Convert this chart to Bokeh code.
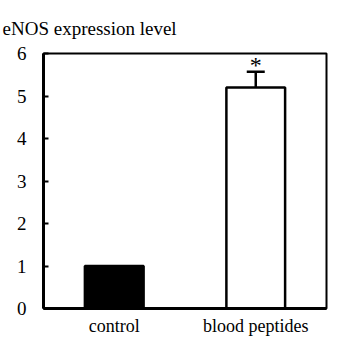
from bokeh.plotting import figure
from bokeh.models import ColumnDataSource, Whisker, TeeHead, FixedTicker, Range1d
from bokeh.core.properties import value
from bokeh.embed import file_html
from bokeh.resources import INLINE

categories = ["control", "blood peptides"]
levels = [1.0, 5.2]
errors = [0.0, 0.37]
fills = ["black", "white"]
y_ticks = [0, 1, 2, 3, 4, 5, 6]
sig_marks = ["", "*"]

FONT = "Liberation Serif"

src = ColumnDataSource(dict(
    cat=categories,
    top=levels,
    upper=[l + e for l, e in zip(levels, errors)],
    fill=fills,
    mark=sig_marks,
))
err_src = ColumnDataSource(dict(
    cat=categories[1:],
    lower=levels[1:],
    upper=[levels[1] + errors[1]],
))

p = figure(x_range=categories, y_range=Range1d(0, 6), width=328, height=338,
           output_backend="svg", toolbar_location=None,
           min_border_left=43, min_border_right=2, min_border_top=48, min_border_bottom=22,
           title="eNOS expression level")
p.x_range.range_padding = 0

p.title.text_font = FONT
p.title.text_font_style = "normal"
p.title.text_font_size = "19px"
p.title.text_color = "black"
p.title.align = "left"
p.title.offset = -41
p.title.standoff = 30

p.vbar(x="cat", top="top", width=0.415, source=src, fill_color="fill",
       line_color="black", line_width=2.5)

w = Whisker(base="cat", upper="upper", lower="lower", source=err_src,
            line_color="black", line_width=2.5,
            upper_head=TeeHead(size=18, line_color="black", line_width=2.5),
            lower_head=None)
p.add_layout(w)

p.text(x="cat", y="upper", text="mark", source=src, text_align="center",
       text_baseline="bottom", text_font=value(FONT), text_font_size="24px",
       y_offset=6, text_color="black")

p.grid.visible = False
p.outline_line_color = "black"
p.outline_line_width = 2
p.background_fill_color = "white"
p.border_fill_color = "white"

p.yaxis.ticker = FixedTicker(ticks=y_ticks)
p.yaxis.major_tick_in = 5
p.yaxis.major_tick_out = 0
p.yaxis.minor_tick_line_color = None
p.yaxis.axis_line_width = 3
p.yaxis.axis_line_color = "black"
p.yaxis.major_tick_line_width = 2
p.yaxis.major_tick_line_color = "black"
p.yaxis.major_label_text_font = FONT
p.yaxis.major_label_text_font_size = "19px"
p.yaxis.major_label_text_color = "black"
p.yaxis.major_label_standoff = 17

p.xaxis.major_tick_line_color = None
p.xaxis.axis_line_width = 3
p.xaxis.axis_line_color = "black"
p.xaxis.major_label_text_font = FONT
p.xaxis.major_label_text_font_size = "18px"
p.xaxis.major_label_text_color = "black"
p.xaxis.major_label_standoff = 1

open("out.html", "w").write(file_html(p, INLINE))
